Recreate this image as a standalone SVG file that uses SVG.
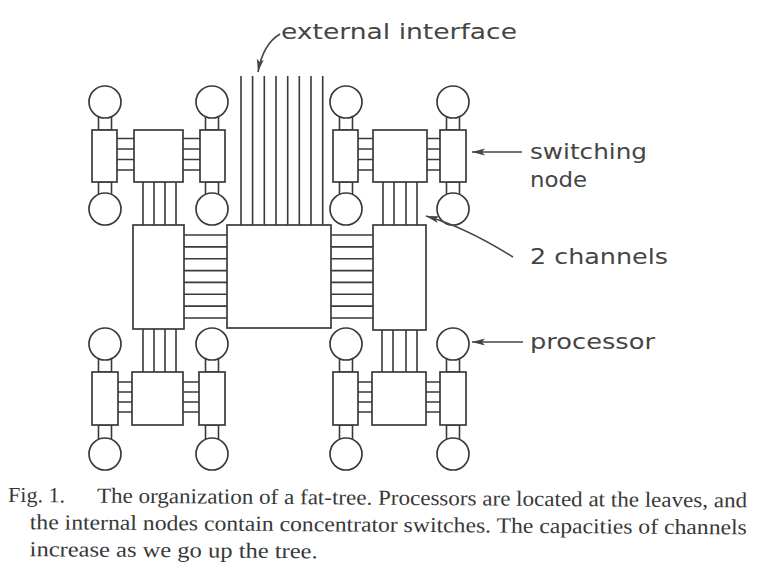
<svg xmlns="http://www.w3.org/2000/svg" width="766" height="577" viewBox="0 0 766 577">
<style>
.b{fill:#fff;stroke:#3a3a3a;stroke-width:1.7}
.c{stroke:#3a3a3a;stroke-width:1.6;fill:none}
.lbl{font-family:"DejaVu Sans",sans-serif;font-size:21px;fill:#454545}
.cap{font-family:"Liberation Serif",serif;font-size:21.5px;fill:#383838}
.arr{stroke:#454545;stroke-width:1.6;fill:none;marker-end:url(#ah)}
</style>
<defs>
<marker id="ah" markerWidth="14" markerHeight="8" refX="13" refY="4" orient="auto" markerUnits="userSpaceOnUse">
<path d="M0,0.5 L13,4 L0,7.5 L3,4 z" fill="#454545"/>
</marker>
</defs>
<rect width="766" height="577" fill="#fff"/>

<g id="connectors" class="c">
<!-- external interface lines -->
<path d="M241,76V225M252.6,76V225M264.3,76V225M276,76V225M287.7,76V225M299.3,76V225M311,76V225M322.7,76V225"/>
<!-- stems (processor to leaf switch) -->
<rect x="98.5" y="116" width="13" height="14"/>
<rect x="98.5" y="182" width="13" height="13"/>
<rect x="205.5" y="116" width="13" height="14"/>
<rect x="205.5" y="182" width="13" height="13"/>
<rect x="339.5" y="116" width="13" height="14"/>
<rect x="339.5" y="182" width="13" height="13"/>
<rect x="446.5" y="116" width="13" height="14"/>
<rect x="446.5" y="182" width="13" height="13"/>
<rect x="98.5" y="358" width="13" height="14"/>
<rect x="98.5" y="425" width="13" height="14"/>
<rect x="205.5" y="358" width="13" height="14"/>
<rect x="205.5" y="425" width="13" height="14"/>
<rect x="339.5" y="358" width="13" height="14"/>
<rect x="339.5" y="425" width="13" height="14"/>
<rect x="446.5" y="358" width="13" height="14"/>
<rect x="446.5" y="425" width="13" height="14"/>
<!-- leaf to mid channels -->
<path d="M117,138.5H134M117,149H134M117,159.5H134M117,170H134"/>
<path d="M183,138.5H200M183,149H200M183,159.5H200M183,170H200"/>
<path d="M358,138.5H373M358,149H373M358,159.5H373M358,170H373"/>
<path d="M427,138.5H440M427,149H440M427,159.5H440M427,170H440"/>
<path d="M118,382H132M118,392H132M118,402H132M118,412H132"/>
<path d="M183,382H199M183,392H199M183,402H199M183,412H199"/>
<path d="M358,382H372M358,392H372M358,402H372M358,412H372"/>
<path d="M426,382H440M426,392H440M426,402H440M426,412H440"/>
<!-- mid to big channels -->
<path d="M143,182V225M154,182V225M165,182V225M176,182V225"/>
<path d="M383,182V225M394,182V225M406,182V225M417,182V225"/>
<path d="M143,329V372M154,329V372M165,329V372M176,329V372"/>
<path d="M382,330V372M393,330V372M406,330V372M417,330V372"/>
<!-- big to center channels -->
<path d="M184,235H227M184,246.9H227M184,258.7H227M184,270.6H227M184,282.4H227M184,294.3H227M184,306.1H227M184,318H227"/>
<path d="M331,235H373M331,246.9H373M331,258.7H373M331,270.6H373M331,282.4H373M331,294.3H373M331,306.1H373M331,318H373"/>
</g>

<g id="root"><rect class="b" x="227" y="225" width="104" height="103"/></g>
<g id="big-left"><rect class="b" x="133" y="225" width="51" height="104"/></g>
<g id="big-right"><rect class="b" x="373" y="225" width="53" height="105"/></g>

<g id="mid-tl"><rect class="b" x="134" y="130" width="49" height="52"/></g>
<g id="mid-tr"><rect class="b" x="373" y="130" width="54" height="52"/></g>
<g id="mid-bl"><rect class="b" x="132" y="372" width="51" height="53"/></g>
<g id="mid-br"><rect class="b" x="372" y="372" width="54" height="53"/></g>

<g id="leaf-1"><rect class="b" x="92" y="130" width="25" height="52"/></g>
<g id="leaf-2"><rect class="b" x="200" y="130" width="25" height="52"/></g>
<g id="leaf-3"><rect class="b" x="333" y="130" width="25" height="52"/></g>
<g id="leaf-4"><rect class="b" x="440" y="130" width="26" height="52"/></g>
<g id="leaf-5"><rect class="b" x="92" y="372" width="26" height="53"/></g>
<g id="leaf-6"><rect class="b" x="199" y="372" width="26" height="53"/></g>
<g id="leaf-7"><rect class="b" x="333" y="372" width="25" height="53"/></g>
<g id="leaf-8"><rect class="b" x="440" y="372" width="26" height="53"/></g>

<g id="proc-1"><circle class="b" cx="105" cy="102" r="16"/></g>
<g id="proc-2"><circle class="b" cx="105" cy="209" r="16"/></g>
<g id="proc-3"><circle class="b" cx="212" cy="102" r="16"/></g>
<g id="proc-4"><circle class="b" cx="212" cy="209" r="16"/></g>
<g id="proc-5"><circle class="b" cx="346" cy="102" r="16"/></g>
<g id="proc-6"><circle class="b" cx="346" cy="209" r="16"/></g>
<g id="proc-7"><circle class="b" cx="453" cy="102" r="16"/></g>
<g id="proc-8"><circle class="b" cx="453" cy="209" r="16"/></g>
<g id="proc-9"><circle class="b" cx="105" cy="344" r="16"/></g>
<g id="proc-10"><circle class="b" cx="105" cy="454" r="16"/></g>
<g id="proc-11"><circle class="b" cx="212" cy="344" r="16"/></g>
<g id="proc-12"><circle class="b" cx="212" cy="454" r="16"/></g>
<g id="proc-13"><circle class="b" cx="346" cy="344" r="16"/></g>
<g id="proc-14"><circle class="b" cx="346" cy="454" r="16"/></g>
<g id="proc-15"><circle class="b" cx="453" cy="344" r="16"/></g>
<g id="proc-16"><circle class="b" cx="453" cy="454" r="16"/></g>

<g id="labels">
<path class="arr" d="M280,34 Q263,44 258,72"/>
<text class="lbl" x="281" y="39" textLength="236" lengthAdjust="spacingAndGlyphs">external interface</text>
<path class="arr" d="M522,152 H472"/>
<text class="lbl" x="530" y="159" textLength="117" lengthAdjust="spacingAndGlyphs">switching</text>
<text class="lbl" x="530" y="187" textLength="57" lengthAdjust="spacingAndGlyphs">node</text>
<path class="arr" d="M513,257 Q465,227 426,216"/>
<text class="lbl" x="530" y="264" textLength="138" lengthAdjust="spacingAndGlyphs">2 channels</text>
<path class="arr" d="M523,342 H472"/>
<text class="lbl" x="530" y="349" textLength="125" lengthAdjust="spacingAndGlyphs">processor</text>
</g>

<g id="caption" transform="rotate(0.42 8 502)">
<text class="cap" x="8" y="502" textLength="57" lengthAdjust="spacingAndGlyphs">Fig. 1.</text>
<text class="cap" x="97" y="502" textLength="650" lengthAdjust="spacingAndGlyphs">The organization of a fat-tree. Processors are located at the leaves, and</text>
<text class="cap" x="30" y="529" textLength="717" lengthAdjust="spacingAndGlyphs">the internal nodes contain concentrator switches. The capacities of channels</text>
<text class="cap" x="30" y="556" textLength="288" lengthAdjust="spacingAndGlyphs">increase as we go up the tree.</text>
</g>
</svg>
